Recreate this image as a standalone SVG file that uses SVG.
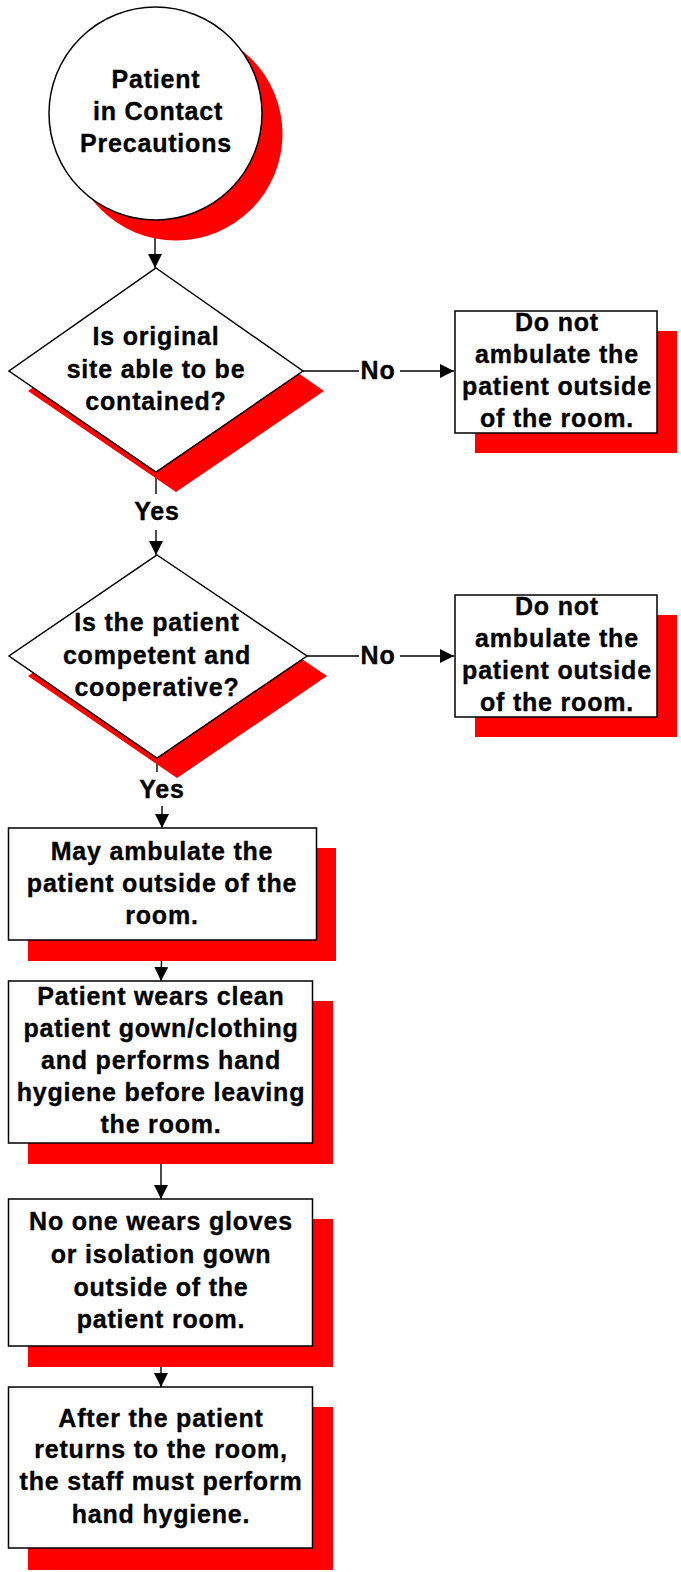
<svg xmlns="http://www.w3.org/2000/svg" width="681" height="1572" viewBox="0 0 681 1572">
<style>
.shadow{fill:#FF0000;stroke:none}
.shape{fill:#FFFFFF;stroke:#000000;stroke-width:1.5}
.t{font-family:"Liberation Sans",Arial,sans-serif;font-weight:bold;font-size:25px;letter-spacing:0.8px;fill:#000000;stroke:#000000;stroke-width:0.35px;text-anchor:middle}
.c{fill:none;stroke:#000000;stroke-width:1.4}
</style>
<defs>
<marker id="arr" markerUnits="userSpaceOnUse" markerWidth="16" markerHeight="16" refX="14" refY="7" orient="auto">
<path d="M0,0 L14,7 L0,14 Z" fill="#000000"/>
</marker>
</defs>
<rect width="681" height="1572" fill="#FFFFFF"/>

<g id="connectors">
<line class="c" x1="155" y1="220" x2="155" y2="268" marker-end="url(#arr)"/>
<line class="c" x1="303" y1="371" x2="359" y2="371"/>
<line class="c" x1="400" y1="371" x2="454" y2="371" marker-end="url(#arr)"/>
<line class="c" x1="156" y1="472" x2="156" y2="494"/>
<line class="c" x1="156" y1="530" x2="156" y2="555" marker-end="url(#arr)"/>
<line class="c" x1="307" y1="656" x2="359" y2="656"/>
<line class="c" x1="400" y1="656" x2="454" y2="656" marker-end="url(#arr)"/>
<line class="c" x1="157" y1="758" x2="157" y2="772"/>
<line class="c" x1="162" y1="806" x2="162" y2="828" marker-end="url(#arr)"/>
<line class="c" x1="162" y1="940" x2="161" y2="981" marker-end="url(#arr)"/>
<line class="c" x1="161" y1="1143" x2="161" y2="1199" marker-end="url(#arr)"/>
<line class="c" x1="161" y1="1346" x2="161" y2="1387" marker-end="url(#arr)"/>
<text class="t" x="378" y="379">No</text>
<text class="t" x="378" y="664">No</text>
<text class="t" x="157" y="520">Yes</text>
<text class="t" x="162" y="798">Yes</text>
</g>

<g id="start">
<circle class="shadow" cx="176" cy="134" r="106.5"/>
<circle class="shape" cx="155.5" cy="113.5" r="106.5"/>
<text class="t" x="156" y="88">Patient</text>
<text class="t" x="158" y="120">in Contact</text>
<text class="t" x="156" y="152">Precautions</text>
</g>

<g id="decision1">
<polygon class="shadow" points="176,288 324,391 176,492 28,391"/>
<polygon class="shape" points="156,268 303,371 156,472 9,371"/>
<text class="t" x="156" y="345">Is original</text>
<text class="t" x="156" y="378">site able to be</text>
<text class="t" x="156" y="410">contained?</text>
</g>

<g id="no1">
<rect class="shadow" x="475" y="331" width="202" height="122"/>
<rect class="shape" x="455" y="311" width="202" height="122"/>
<text class="t" x="557" y="331">Do not</text>
<text class="t" x="557" y="363">ambulate the</text>
<text class="t" x="557" y="395">patient outside</text>
<text class="t" x="557" y="427">of the room.</text>
</g>

<g id="decision2">
<polygon class="shadow" points="177,575 327,676 177,778 28,676"/>
<polygon class="shape" points="157,555 307,656 157,758 9,656"/>
<text class="t" x="157" y="631">Is the patient</text>
<text class="t" x="157" y="664">competent and</text>
<text class="t" x="157" y="696">cooperative?</text>
</g>

<g id="no2">
<rect class="shadow" x="475" y="615" width="202" height="122"/>
<rect class="shape" x="455" y="595" width="202" height="122"/>
<text class="t" x="557" y="615">Do not</text>
<text class="t" x="557" y="647">ambulate the</text>
<text class="t" x="557" y="679">patient outside</text>
<text class="t" x="557" y="711">of the room.</text>
</g>

<g id="step1">
<rect class="shadow" x="28" y="848" width="308" height="113"/>
<rect class="shape" x="8.5" y="828" width="308" height="112"/>
<text class="t" x="162" y="860">May ambulate the</text>
<text class="t" x="162" y="892">patient outside of the</text>
<text class="t" x="162" y="924">room.</text>
</g>

<g id="step2">
<rect class="shadow" x="28" y="1001" width="305" height="163"/>
<rect class="shape" x="8.5" y="981" width="304" height="162"/>
<text class="t" x="161" y="1005">Patient wears clean</text>
<text class="t" x="161" y="1037">patient gown/clothing</text>
<text class="t" x="161" y="1069">and performs hand</text>
<text class="t" x="161" y="1101">hygiene before leaving</text>
<text class="t" x="161" y="1133">the room.</text>
</g>

<g id="step3">
<rect class="shadow" x="28" y="1219" width="305" height="148"/>
<rect class="shape" x="8.5" y="1199" width="304" height="147"/>
<text class="t" x="161" y="1230">No one wears gloves</text>
<text class="t" x="161" y="1263">or isolation gown</text>
<text class="t" x="161" y="1296">outside of the</text>
<text class="t" x="161" y="1328">patient room.</text>
</g>

<g id="step4">
<rect class="shadow" x="28" y="1407" width="305" height="163"/>
<rect class="shape" x="8.5" y="1387" width="304" height="161"/>
<text class="t" x="161" y="1427">After the patient</text>
<text class="t" x="161" y="1458">returns to the room,</text>
<text class="t" x="161" y="1490">the staff must perform</text>
<text class="t" x="161" y="1523">hand hygiene.</text>
</g>
</svg>
